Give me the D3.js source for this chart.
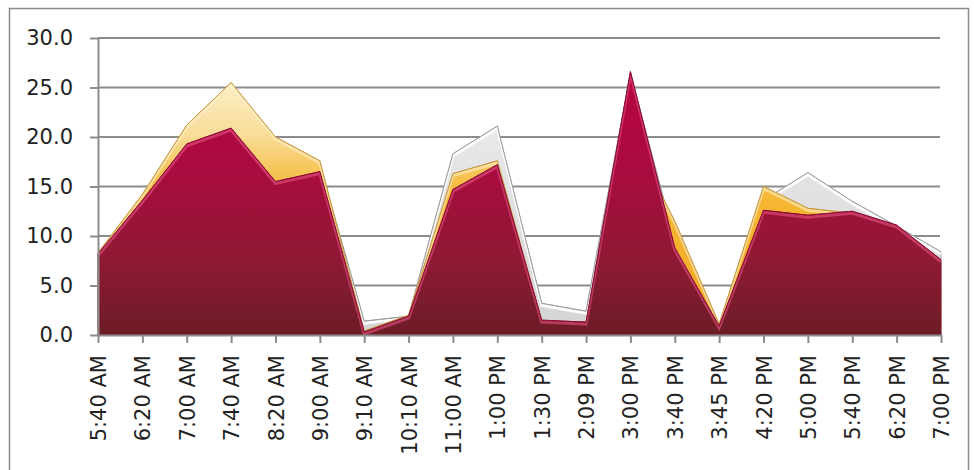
<!DOCTYPE html>
<html>
<head>
<meta charset="utf-8">
<script src="https://cdn.jsdelivr.net/npm/d3@7"></script>
<style>
  body { margin: 0; background: #fff; }
  svg { display: block; }
  .axis text { font-family: "DejaVu Sans", sans-serif; font-size: 21px; fill: #222; }
</style>
</head>
<body>
<div id="chart"></div>
<script>
// categories on the x axis
var categories = ['5:40 AM', '6:20 AM', '7:00 AM', '7:40 AM', '8:20 AM', '9:00 AM', '9:10 AM', '10:10 AM',
    '11:00 AM', '1:00 PM', '1:30 PM', '2:09 PM', '3:00 PM', '3:40 PM', '3:45 PM', '4:20 PM',
    '5:00 PM', '5:40 PM', '6:20 PM', '7:00 PM'];

// back series (silver)
var greyValues = [8.0, 13.8, 20.8, 25.0, 19.6, 17.2, 1.4, 1.9, 18.3, 21.1, 3.2, 2.4, 26.4, 9.5, 0.8, 13.6, 16.4, 13.5, 11.0, 8.4];
// middle series (gold)
var goldValues = [8.3, 14.2, 21.2, 25.5, 20.0, 17.6, 0.4, 2.0, 16.3, 17.6, 1.4, 1.3, 20.3, 11.5, 1.1, 15.0, 12.8, 12.3, 11.0, 7.6];
// front series (crimson)
var redValues = [8.2, 13.6, 19.3, 20.9, 15.5, 16.5, 0.3, 1.9, 14.7, 17.2, 1.5, 1.3, 26.6, 8.8, 0.9, 12.6, 12.1, 12.5, 11.1, 7.6];

var yTicks = [0, 5, 10, 15, 20, 25, 30];

function drawChart() {
    var width = 974, height = 470;
    var plotLeft = 98, plotRight = 941, plotTop = 38, plotBottom = 335;

    var svg = d3.select('#chart')
        .append('svg')
        .attr('width', width)
        .attr('height', height);

    var defs = svg.append('defs');

    var x = d3.scalePoint().domain(categories).range([plotLeft, plotRight]).padding(0);
    var y = d3.scaleLinear().domain([0, 30]).range([plotBottom, plotTop]);

    // gradients in chart space so colour follows the value height
    function addGradient(id, stops) {
        var g = defs.append('linearGradient')
            .attr('id', id)
            .attr('gradientUnits', 'userSpaceOnUse')
            .attr('x1', 0).attr('x2', 0)
            .attr('y1', plotTop).attr('y2', plotBottom);
        stops.forEach(function (s) {
            g.append('stop').attr('offset', s[0]).attr('stop-color', s[1]);
        });
    }
    addGradient('gradGrey', [[0, '#f4f4f4'], [0.5, '#e2e2e2'], [1, '#d4d4d4']]);
    addGradient('gradGold', [[0, '#fffbee'], [0.15, '#fcefc8'], [0.32, '#f8dd9a'], [0.45, '#f6c456'], [0.55, '#f6b632'], [1, '#f0a622']]);
    addGradient('gradRed', [[0, '#bb0048'], [0.4, '#ac0a40'], [0.75, '#8f1934'], [1, '#6c1d26']]);

    // outer frame
    svg.append('rect')
        .attr('x', 9.5).attr('y', 8.5)
        .attr('width', 959).attr('height', 480)
        .attr('fill', 'none')
        .attr('stroke', '#8a8a8a')
        .attr('stroke-width', 1.5);

    // horizontal gridlines
    svg.append('g')
        .selectAll('line')
        .data(yTicks.filter(function (d) { return d > 0; }))
        .enter()
        .append('line')
        .attr('x1', plotLeft).attr('x2', plotRight - 1)
        .attr('y1', function (d) { return y(d); })
        .attr('y2', function (d) { return y(d); })
        .attr('stroke', '#8c8c8c')
        .attr('stroke-width', 2);

    var area = d3.area()
        .x(function (d, i) { return x(categories[i]); })
        .y0(plotBottom)
        .y1(function (d) { return d; });
    var topLine = d3.line()
        .x(function (d, i) { return x(categories[i]); })
        .y(function (d) { return d; });

    var series = [
        { id: 'grey', values: greyValues, fill: 'url(#gradGrey)', edge: '#9c9c9c', glow: 'rgba(255,255,255,0.9)' },
        { id: 'gold', values: goldValues, fill: 'url(#gradGold)', edge: '#c99a45', glow: 'rgba(255,240,200,0.6)' },
        { id: 'red', values: redValues, fill: 'url(#gradRed)', edge: '#8c0c36', glow: 'rgba(235,90,135,0.55)' }
    ];

    series.forEach(function (s) {
        var pts = s.values.map(function (v) { return y(v); });

        defs.append('clipPath')
            .attr('id', 'clip-' + s.id)
            .append('path')
            .attr('d', area(pts));

        var g = svg.append('g');
        g.append('path')
            .attr('d', area(pts))
            .attr('fill', s.fill)
            .attr('stroke', s.edge)
            .attr('stroke-width', 0.8);

        // bevel highlight along the upper edge
        g.append('path')
            .attr('d', topLine(pts.map(function (p) { return p + 2; })))
            .attr('fill', 'none')
            .attr('stroke', s.glow)
            .attr('stroke-width', 3)
            .attr('clip-path', 'url(#clip-' + s.id + ')');

        g.append('path')
            .attr('d', topLine(pts))
            .attr('fill', 'none')
            .attr('stroke', s.edge)
            .attr('stroke-width', 1);
    });

    // y axis
    svg.append('g')
        .attr('class', 'axis')
        .attr('transform', 'translate(' + plotLeft + ',0)')
        .call(d3.axisLeft(y).tickValues(yTicks).tickFormat(d3.format('.1f')).tickSize(8).tickSizeOuter(0).tickPadding(17));

    // x axis
    var xAxis = svg.append('g')
        .attr('class', 'axis')
        .attr('transform', 'translate(0,' + plotBottom + ')')
        .call(d3.axisBottom(x).tickSize(8).tickSizeOuter(0));

    xAxis.selectAll('text')
        .attr('text-anchor', 'end')
        .attr('transform', 'translate(0,20) rotate(-90)')
        .attr('x', 0)
        .attr('y', 0)
        .attr('dy', '0.36em');

    svg.selectAll('.axis path, .axis line')
        .attr('stroke', '#8c8c8c')
        .attr('stroke-width', 2);
}

drawChart();
</script>
</body>
</html>
